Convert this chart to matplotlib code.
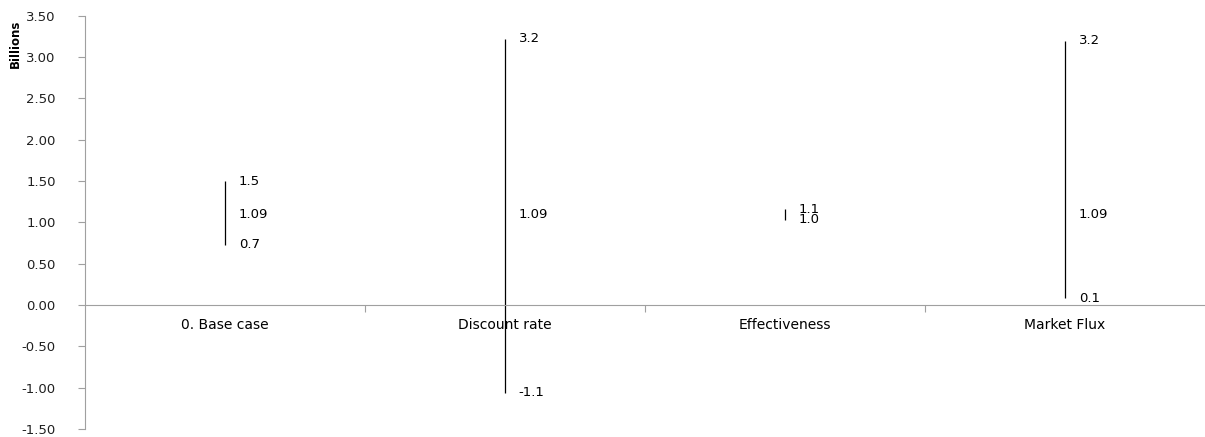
import matplotlib.pyplot as plt
from matplotlib.ticker import FormatStrFormatter

categories = ["0. Base case", "Discount rate", "Effectiveness", "Market Flux"]
highs = [1.50, 3.22, 1.16, 3.20]
lows = [0.73, -1.06, 1.03, 0.08]
closes = [1.09, 1.09, None, 1.09]
high_labels = ["1.5", "3.2", "1.1", "3.2"]
low_labels = ["0.7", "-1.1", "1.0", "0.1"]
close_labels = ["1.09", "1.09", None, "1.09"]

fig = plt.figure(figsize=(12.05, 4.37), dpi=100)
ax = fig.add_axes([0.0705, 0.018, 0.9295, 0.946])

centers = [i + 0.5 for i in range(len(categories))]
ax.vlines(centers, lows, highs, color="black", linewidth=0.9)

label_kw = dict(fontsize=9.5, color="black", va="center", ha="left")
for x, hi, lo, cl, hl, ll, cll in zip(centers, highs, lows, closes, high_labels, low_labels, close_labels):
    ax.annotate(hl, (x, hi), xytext=(10, 0), textcoords="offset points", **label_kw)
    ax.annotate(ll, (x, lo), xytext=(10, 0), textcoords="offset points", **label_kw)
    if cl is not None:
        ax.annotate(cll, (x, cl), xytext=(10, 0), textcoords="offset points", **label_kw)

ax.set_xlim(0, len(categories))
ax.set_ylim(-1.5, 3.5)
ax.set_yticks([-1.5 + 0.5 * i for i in range(11)])
ax.yaxis.set_major_formatter(FormatStrFormatter("%.2f"))

ax.set_xticks([1, 2, 3])
ax.set_xticklabels([])
ax.set_xticks(centers, minor=True)
ax.set_xticklabels(categories, minor=True, fontsize=9.5)
ax.tick_params(axis="x", which="minor", length=0, pad=9)
ax.tick_params(axis="x", which="major", length=5, direction="out", color="#a0a0a0")
ax.tick_params(axis="y", length=5, color="#a0a0a0", labelsize=9.5, labelcolor="#202020", pad=16)

for side in ["top", "right"]:
    ax.spines[side].set_visible(False)
ax.spines["bottom"].set_position(("data", 0))
ax.spines["left"].set_color("#a0a0a0")
ax.spines["bottom"].set_color("#a0a0a0")

fig.text(0.013, 0.90, "Billions", rotation=90, fontsize=8.5, fontweight="bold",
         ha="center", va="center")

fig.savefig("out.png", dpi=100)
